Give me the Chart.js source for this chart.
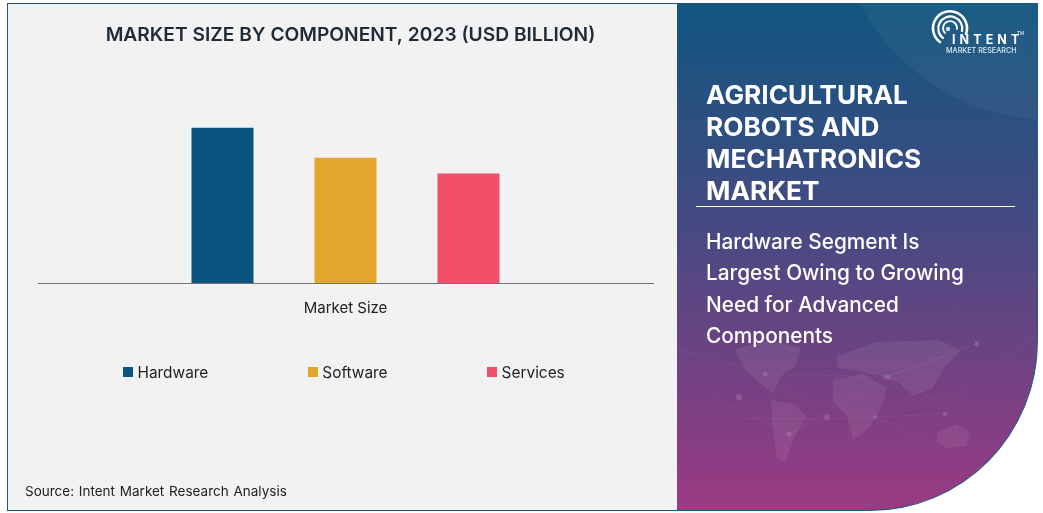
<!DOCTYPE html>
<html>
<head>
<meta charset="utf-8">
<title>Agricultural Robots and Mechatronics Market</title>
<script src="https://cdn.jsdelivr.net/npm/chart.js@4/dist/chart.umd.min.js"></script>
<style>
  html, body { margin: 0; padding: 0; background: #fff; }
  body { width: 1043px; height: 513px; overflow: hidden; position: relative; font-family: Inter, sans-serif; }
  .left-panel { position: absolute; left: 7px; top: 3px; width: 670px; height: 506px; background: #f2f2f2; border: 1px solid #1d5a80; border-right: 0; }
  #chartWrap { position: absolute; left: -0.5px; top: 0; width: 700px; height: 513px; }
  #legend { position: absolute; left: 123px; top: 362px; display: flex; gap: 99.5px; font-size: 15.4px; color: #222; height: 20px; align-items: center; }
  #legend .item { display: flex; align-items: center; }
  #legend .box { width: 10px; height: 10px; margin-right: 4.5px; }
  .source { position: absolute; left: 25px; top: 483px; font-size: 13.5px; color: #222; word-spacing: 1px; }
  .right-panel { position: absolute; left: 677px; top: 3px; width: 360px; height: 506px; overflow: hidden; color: #fff;
    background: linear-gradient(180deg, #10567f 0%, #454a82 43%, #9b3a83 100%);
    border: 1px solid #1d5a80; border-left: 0; border-bottom-right-radius: 168px 170px; }
  .glow { position: absolute; left: 158px; top: -318px; width: 434px; height: 434px; border-radius: 50%; background: rgba(255,255,255,0.045); }
  .map { position: absolute; left: 0; top: 0; }
  .headline { position: absolute; left: 29px; top: 75px; font-size: 26.2px; line-height: 32px; font-weight: 700; white-space: nowrap; }
  .rule { position: absolute; left: 19px; top: 202px; width: 319px; height: 1px; background: #fff; }
  .sub { position: absolute; left: 29px; top: 222px; font-size: 20.8px; line-height: 31.3px; font-weight: 500; white-space: nowrap; }
  .logo-a { position: absolute; left: 275px; top: 29px; font-size: 12.5px; font-weight: 700; letter-spacing: 4.1px; line-height: 14px; white-space: nowrap; }
  .logo-b { position: absolute; left: 269px; top: 42px; font-size: 7.2px; font-weight: 500; line-height: 10px; white-space: nowrap; color: #dfe8f0; }
  .logo-tm { position: absolute; left: 340px; top: 27px; font-size: 4.5px; line-height: 6px; }
</style>
</head>
<body>
<div class="left-panel"></div>
<div id="chartWrap"><canvas id="chart"></canvas></div>
<div id="legend"></div>
<div class="source">Source: Intent Market Research Analysis</div>

<div class="right-panel">
  <div class="glow"></div>
  <svg class="map" width="360" height="506" viewBox="0 0 360 506">
    <g fill="#fff" opacity="0.07">
      <path d="M58 345 L92 336 L124 344 L118 362 L104 372 L96 390 L84 380 L68 366 Z"/>
      <path d="M94 396 L116 400 L130 412 L118 432 L108 458 L100 454 L96 426 Z"/>
      <path d="M156 376 L186 370 L210 384 L206 400 L192 424 L176 436 L170 412 L156 398 Z"/>
      <path d="M160 352 L200 338 L262 336 L284 346 L268 362 L256 384 L236 392 L222 378 L204 372 L176 366 L160 364 Z"/>
      <path d="M260 428 L280 420 L292 428 L290 442 L270 444 L260 438 Z"/>
    </g>
    <g stroke="#fff" stroke-width="0.6" opacity="0.08" fill="none">
      <path d="M0 345 L88 370 L210 373 L300 340 L360 270"/>
      <path d="M40 395 L112 430 L210 373 L268 400 L360 330"/>
      <path d="M62 415 L150 415 L198 413 L294 458"/>
      <path d="M88 370 L150 415 L112 430 M210 373 L300 340 L268 282 M198 413 L268 410"/>
    </g>
    <g fill="#fff" opacity="0.13">
      <circle cx="62" cy="393" r="3"/><circle cx="88" cy="370" r="2.5"/><circle cx="150" cy="413" r="3"/>
      <circle cx="112" cy="430" r="2.5"/><circle cx="210" cy="373" r="3"/><circle cx="300" cy="340" r="2.5"/>
      <circle cx="268" cy="410" r="2.5"/><circle cx="198" cy="413" r="2"/>
    </g>
  </svg>
  <svg class="map" width="360" height="80" viewBox="0 0 360 80">
    <g fill="none" stroke="#fff" stroke-linecap="round">
      <path d="M268 29 A7 7 0 1 1 280 25" stroke-width="1.8"/>
      <path d="M266 34 A12 12 0 1 1 285 27" stroke-width="2.2"/>
      <path d="M263 38 A17 17 0 1 1 289 30" stroke-width="2.6"/>
    </g>
    <circle cx="271" cy="25" r="2.2" fill="#cfe0ea"/>
  </svg>
  <div class="logo-a">INTENT</div>
  <div class="logo-b">MARKET RESEARCH</div>
  <div class="logo-tm">TM</div>
  <div class="headline">AGRICULTURAL<br>ROBOTS AND<br>MECHATRONICS<br>MARKET</div>
  <div class="rule"></div>
  <div class="sub">Hardware Segment Is<br>Largest Owing to Growing<br>Need for Advanced<br>Components</div>
</div>

<script>
  // bar heights, there is no value axis in it
  var categories = ['Market Size'];
  var seriesNames = ['Hardware', 'Software', 'Services'];
  var seriesValues = [7.8, 6.3, 5.5];
  var seriesColors = ['#0b5480', '#e2a62c', '#f44f69'];
  var chartTitle = 'MARKET SIZE BY COMPONENT, 2023 (USD BILLION)';

  var fontSans = 'Inter, sans-serif';

  var datasets = seriesNames.map(function(name, i) {
    return {
      label: name,
      data: [seriesValues[i]],
      backgroundColor: seriesColors[i],
      borderWidth: 0,
      categoryPercentage: 0.6,
      barPercentage: 0.504
    };
  });

  var chart = new Chart(document.getElementById('chart'), {
    type: 'bar',
    data: { labels: categories, datasets: datasets },
    options: {
      responsive: true,
      maintainAspectRatio: false,
      animation: false,
      layout: { padding: { left: 38, right: 37, top: 0, bottom: 188 } },
      plugins: {
        legend: { display: false },
        tooltip: { enabled: false },
        title: {
          display: true,
          text: chartTitle,
          color: '#1f2a37',
          font: { family: fontSans, size: 19.2, weight: '600' },
          padding: { top: 24, bottom: 37 }
        }
      },
      scales: {
        x: {
          grid: { display: false },
          border: { display: true, color: '#6f7479', width: 1 },
          ticks: { color: '#222', font: { family: fontSans, size: 15 }, padding: 8, maxRotation: 0 }
        },
        // invisible axis on the right, only there to push the title centre off the plot centre
        y: {
          position: 'right',
          min: 0,
          max: 10,
          grid: { display: false },
          border: { display: false },
          ticks: { display: false },
          afterFit: function(scale) { scale.width = 10; }
        }
      }
    }
  });

  // legend sits far from the axis so it goes in html, built from the chart's own items
  var legendEl = document.getElementById('legend');
  chart.options.plugins.legend.labels.generateLabels(chart).forEach(function(item) {
    var row = document.createElement('div');
    row.className = 'item';
    var box = document.createElement('span');
    box.className = 'box';
    box.style.background = item.fillStyle;
    var label = document.createElement('span');
    label.textContent = item.text;
    row.appendChild(box);
    row.appendChild(label);
    legendEl.appendChild(row);
  });
</script>
</body>
</html>
